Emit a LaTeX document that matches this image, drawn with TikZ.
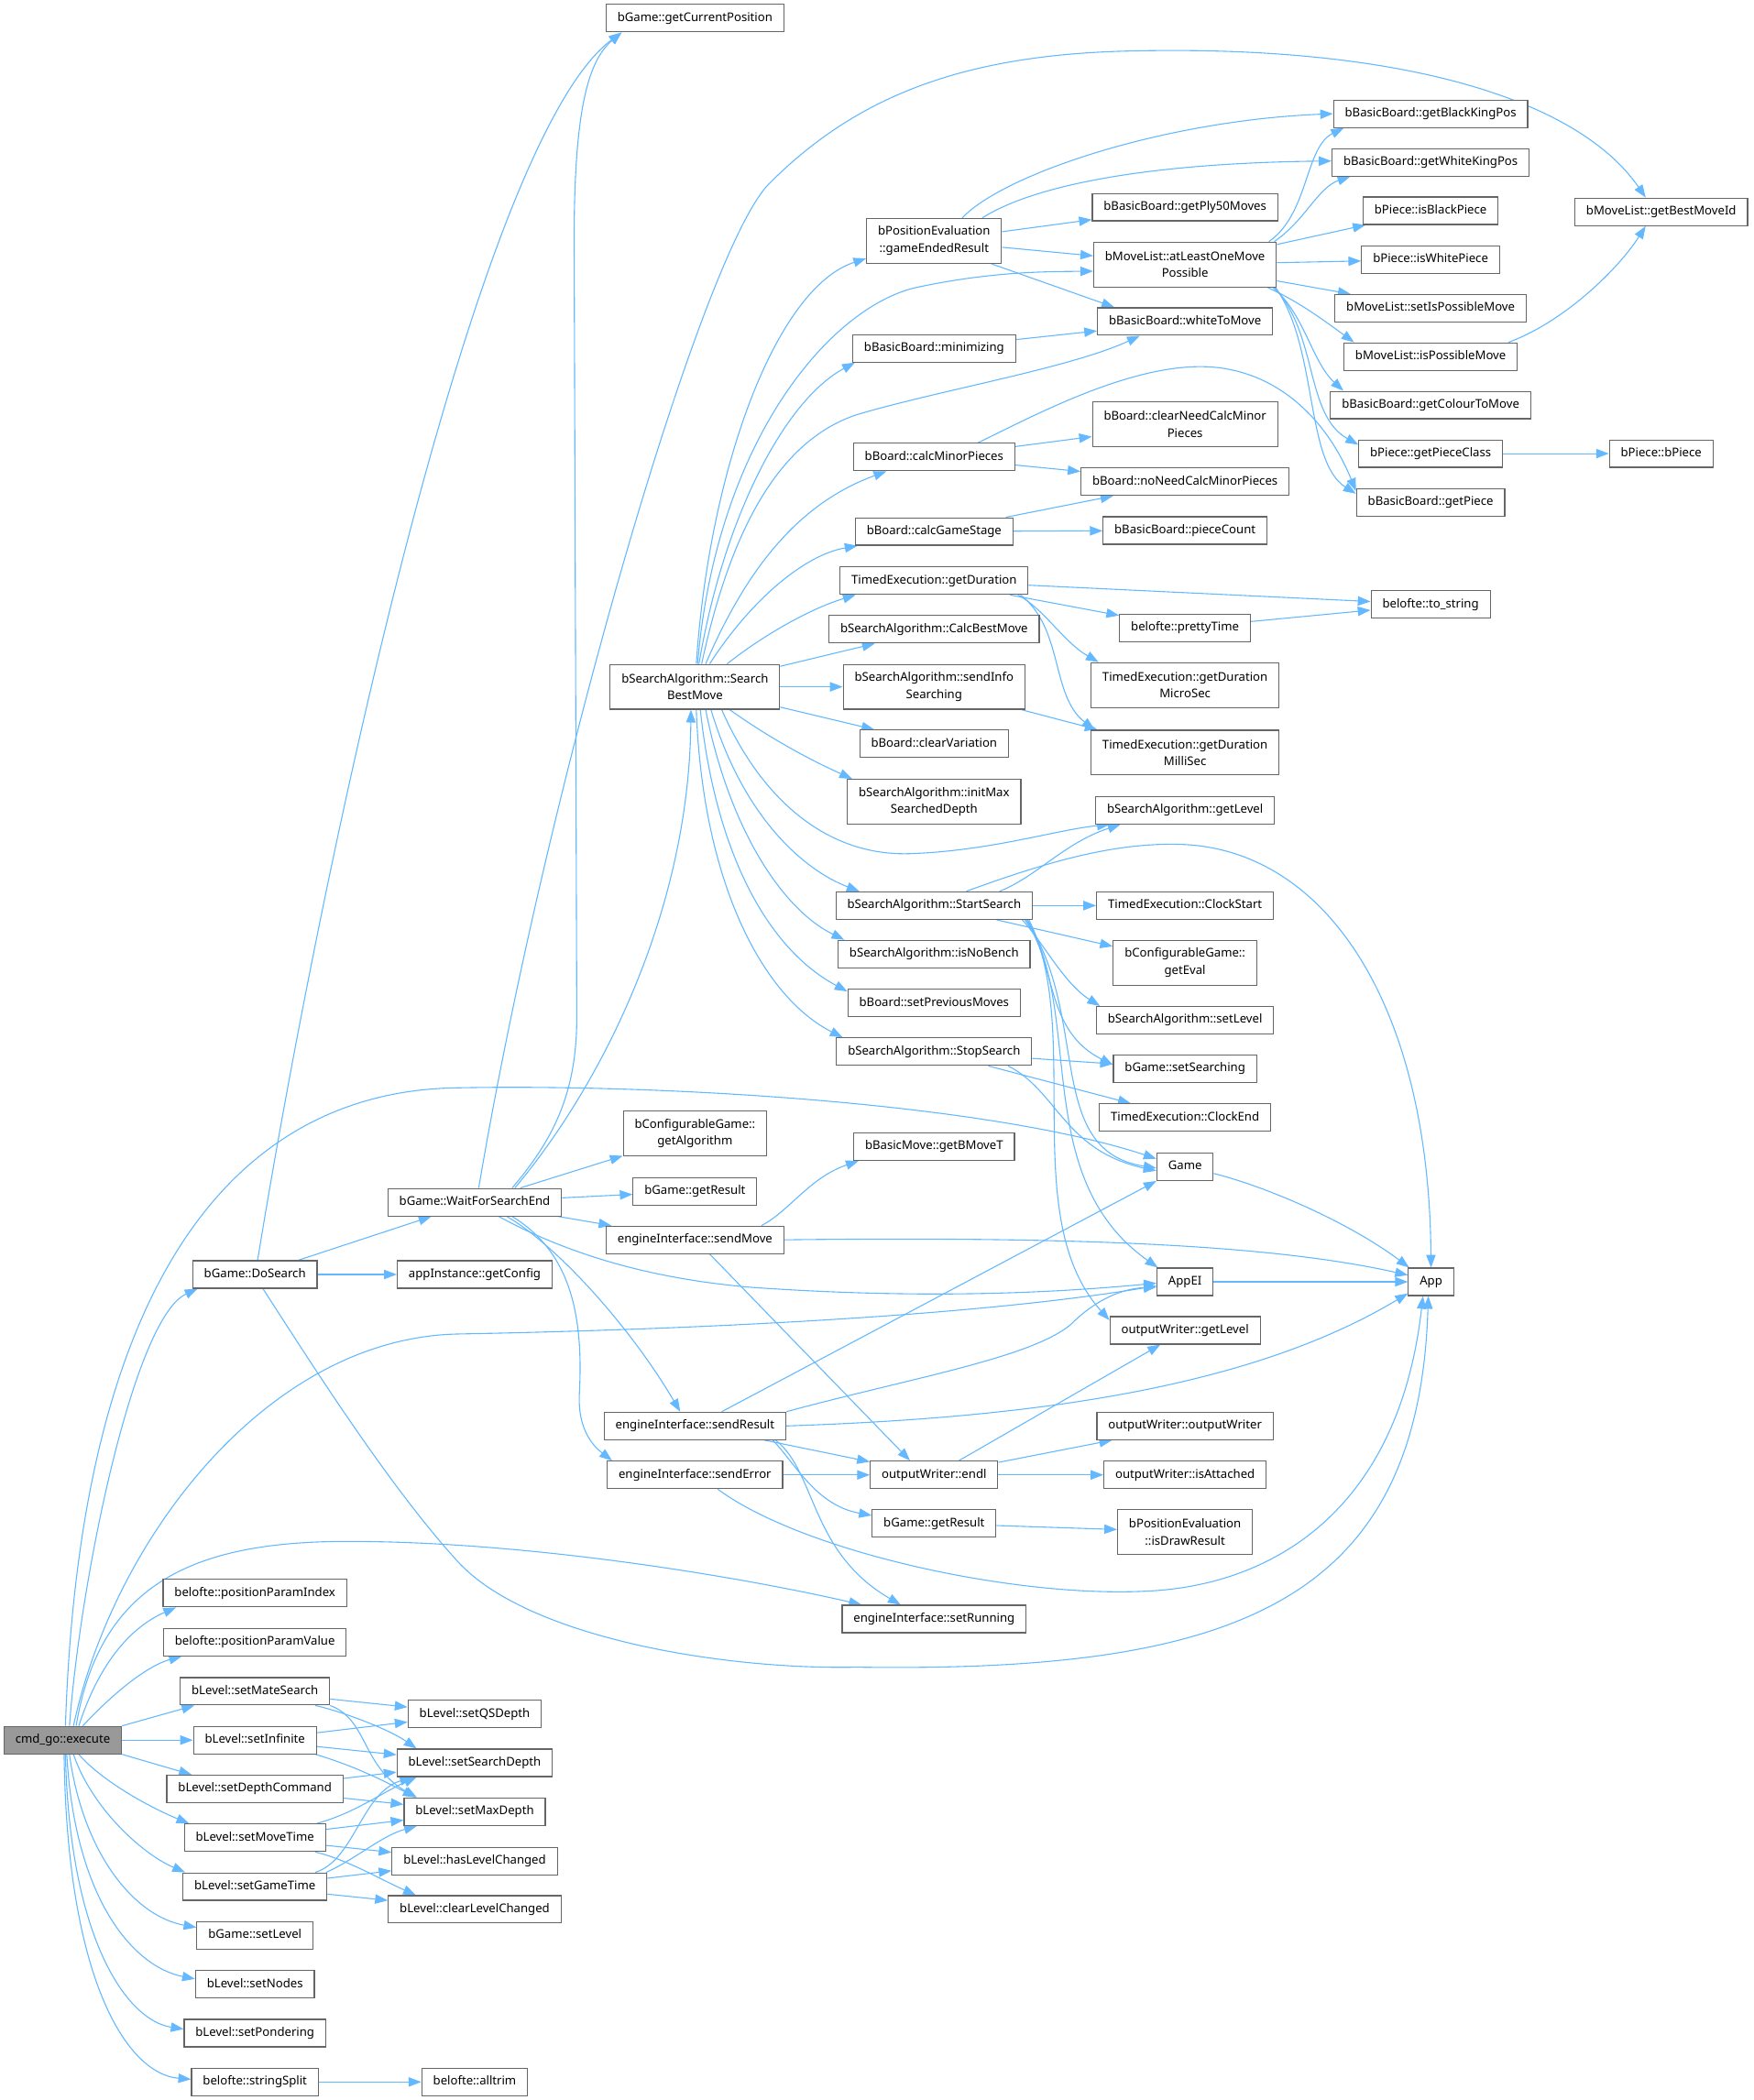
\documentclass[tikz,border=0pt]{standalone}
\usepackage{fontspec}
\setmainfont{Noto Sans}
\usetikzlibrary{arrows.meta,backgrounds}
\definecolor{edgeblue}{HTML}{63B8FF}
\definecolor{nodeborder}{HTML}{666666}
\definecolor{rootgray}{HTML}{999999}
\begin{document}
\begin{tikzpicture}[x=1pt,y=-1pt,
  box/.style={draw=nodeborder, fill=white, line width=0.8pt, rectangle, inner xsep=8.5pt, inner ysep=0pt,
    minimum height=20.5pt, text height=6.6pt, text depth=1.9pt, font=\fontsize{9}{12.8}\selectfont},
  boxtwo/.style={draw=nodeborder, fill=white, line width=0.8pt, rectangle, inner xsep=8.5pt, inner ysep=0pt,
    minimum height=33.5pt, align=center, font=\fontsize{9}{12.8}\selectfont},
  edge/.style={draw=edgeblue, line width=0.75pt, -{Triangle[length=9.5pt,width=7pt]}}]
\useasboundingbox (0,0) rectangle (1310,1569.5);
% column 0
\node[box, fill=rootgray] (exec) at (46.9,1300.5) {cmd\_go::execute};
% column 1
\node[box] (dosearch) at (190.5,952.5) {bGame::DoSearch};
\node[box] (ppi) at (190.5,1190.7) {belofte::positionParamIndex};
\node[box] (ppv) at (190.5,1227.2) {belofte::positionParamValue};
\node[box] (matesearch) at (190.5,1264) {bLevel::setMateSearch};
\node[box] (infinite) at (190.5,1300.5) {bLevel::setInfinite};
\node[box] (depthcmd) at (190.5,1337) {bLevel::setDepthCommand};
\node[box] (movetime) at (190.5,1373.5) {bLevel::setMoveTime};
\node[box] (gametime) at (190.5,1410) {bLevel::setGameTime};
\node[box] (setlevel) at (190.5,1446.5) {bGame::setLevel};
\node[box] (setnodes) at (190.5,1483) {bLevel::setNodes};
\node[box] (pondering) at (190.5,1519.5) {bLevel::setPondering};
\node[box] (stringsplit) at (190.5,1556) {belofte::stringSplit};
% column 2
\node[box] (waitfor) at (354.7,898.5) {bGame::WaitForSearchEnd};
\node[box] (getconfig) at (354.7,952.5) {appInstance::getConfig};
\node[box] (qsdepth) at (354.7,1281) {bLevel::setQSDepth};
\node[box] (searchdepth) at (354.7,1317.5) {bLevel::setSearchDepth};
\node[box] (maxdepth) at (354.7,1354) {bLevel::setMaxDepth};
\node[box] (haslevel) at (354.7,1391) {bLevel::hasLevelChanged};
\node[box] (clearlevel) at (354.7,1427) {bLevel::clearLevelChanged};
\node[box] (alltrim) at (354.7,1556) {belofte::alltrim};
% column 3
\node[box] (getcurpos) at (519.3,13.6) {bGame::getCurrentPosition};
\node[boxtwo] (searchbest) at (519.3,513.3) {bSearchAlgorithm::Search\\BestMove};
\node[boxtwo] (getalgo) at (519.3,847) {bConfigurableGame::\\getAlgorithm};
\node[box] (getresult) at (519.3,890.3) {bGame::getResult};
\node[box] (sendmove) at (519.3,926.6) {engineInterface::sendMove};
\node[box] (sendresult) at (519.3,1065.7) {engineInterface::sendResult};
\node[box] (senderror) at (519.3,1102.3) {engineInterface::sendError};
% column 4
\node[boxtwo] (gameended) at (698,180) {bPositionEvaluation\\::gameEndedResult};
\node[box] (minimizing) at (698,260.3) {bBasicBoard::minimizing};
\node[box] (calcminor) at (698,341.6) {bBoard::calcMinorPieces};
\node[box] (calcgame) at (698,397.2) {bBoard::calcGameStage};
\node[box] (getduration) at (698,434) {TimedExecution::getDuration};
\node[box] (calcbest) at (698,470.3) {bSearchAlgorithm::CalcBestMove};
\node[boxtwo] (sendinfo) at (698,513.3) {bSearchAlgorithm::sendInfo\\Searching};
\node[box] (clearvar) at (698,555.9) {bBoard::clearVariation};
\node[boxtwo] (initmax) at (698,599.2) {bSearchAlgorithm::initMax\\SearchedDepth};
\node[box] (startsearch) at (698,676.8) {bSearchAlgorithm::StartSearch};
\node[box] (isnobench) at (698,713) {bSearchAlgorithm::isNoBench};
\node[box] (setprev) at (698,749.6) {bBoard::setPreviousMoves};
\node[box] (stopsearch) at (698,786) {bSearchAlgorithm::StopSearch};
\node[box] (getbmovet) at (698,857) {bBasicMove::getBMoveT};
\node[box] (endl) at (698,1102.3) {outputWriter::endl};
\node[box] (getresult2) at (698,1138.6) {bGame::getResult};
\node[box] (setrunning) at (698,1210) {engineInterface::setRunning};
% column 5
\node[box] (ply50) at (885.5,154.8) {bBasicBoard::getPly50Moves};
\node[boxtwo] (atleast) at (885.5,197.7) {bMoveList::atLeastOneMove\\Possible};
\node[box] (whitetomove) at (885.5,240.3) {bBasicBoard::whiteToMove};
\node[boxtwo] (clearneed) at (885.5,317.3) {bBoard::clearNeedCalcMinor\\Pieces};
\node[box] (noneed) at (885.5,360) {bBoard::noNeedCalcMinorPieces};
\node[box] (piececount) at (885.5,396.5) {bBasicBoard::pieceCount};
\node[box] (prettytime) at (885.5,469.2) {belofte::prettyTime};
\node[boxtwo] (microsec) at (885.5,512) {TimedExecution::getDuration\\MicroSec};
\node[boxtwo] (millisec) at (885.5,562.5) {TimedExecution::getDuration\\MilliSec};
\node[box] (getlevel) at (885.5,605.5) {bSearchAlgorithm::getLevel};
\node[box] (clockstart) at (885.5,676.8) {TimedExecution::ClockStart};
\node[boxtwo] (geteval) at (885.5,719.6) {bConfigurableGame::\\getEval};
\node[box] (setlevel2) at (885.5,762.5) {bSearchAlgorithm::setLevel};
\node[box] (setsearching) at (885.5,798.8) {bGame::setSearching};
\node[box] (clockend) at (885.5,835.3) {TimedExecution::ClockEnd};
\node[box] (game) at (885.5,872) {Game};
\node[box] (appei) at (885.5,958) {AppEI};
\node[box] (owgetlevel) at (885.5,994.3) {outputWriter::getLevel};
\node[box] (owctor) at (885.5,1065.7) {outputWriter::outputWriter};
\node[box] (isattached) at (885.5,1102.3) {outputWriter::isAttached};
\node[boxtwo] (isdraw) at (885.5,1144.8) {bPositionEvaluation\\::isDrawResult};
% column 6
\node[box] (getblack) at (1069,85) {bBasicBoard::getBlackKingPos};
\node[box] (getwhite) at (1069,121.3) {bBasicBoard::getWhiteKingPos};
\node[box] (isblack) at (1069,157.5) {bPiece::isBlackPiece};
\node[box] (iswhite) at (1069,194) {bPiece::isWhitePiece};
\node[box] (setispossible) at (1069,230.4) {bMoveList::setIsPossibleMove};
\node[box] (ispossible) at (1069,266.5) {bMoveList::isPossibleMove};
\node[box] (getcolour) at (1069,302.7) {bBasicBoard::getColourToMove};
\node[box] (getpiececlass) at (1069,339) {bPiece::getPieceClass};
\node[box] (getpiece) at (1069,375.6) {bBasicBoard::getPiece};
\node[box] (tostring) at (1069,451.7) {belofte::to\_string};
\node[box] (app) at (1069.3,958) {App};
% column 7
\node[box] (getbestid) at (1241.3,158.3) {bMoveList::getBestMoveId};
\node[box] (bpiece) at (1241.3,339) {bPiece::bPiece};

\begin{scope}[on background layer]
% cmd_go::execute
\draw[edge] ([xshift=5pt]exec.north) .. controls (60,1180) and (100,985) .. ([xshift=4pt]dosearch.south west);
\draw[edge] ([xshift=2pt]exec.north) .. controls (60,950) and (180,815) .. (342,813) .. controls (500,810) and (740,825) .. ([yshift=6pt]game.west);
\draw[edge] ([xshift=8pt]exec.north) .. controls (85,1150) and (200,1000) .. (342,997) .. controls (500,994) and (720,985) .. ([yshift=-3pt]appei.west);
\draw[edge] ([xshift=10pt]exec.north) .. controls (75,1180) and (150,1152) .. (260,1152) .. controls (400,1152) and (560,1180) .. ([xshift=15pt]setrunning.north west);
\draw[edge] ([xshift=12pt]exec.north) .. controls (75,1240) and (100,1215) .. ([xshift=10pt]ppi.south west);
\draw[edge] ([xshift=15pt]exec.north) .. controls (85,1265) and (110,1245) .. ([xshift=14pt]ppv.south west);
\draw[edge] (exec.north east) -- ([xshift=11pt]matesearch.south west);
\draw[edge] (exec) -- (infinite);
\draw[edge] (exec.south east) -- ([xshift=19pt]depthcmd.north west);
\draw[edge] ([xshift=12pt]exec.south) .. controls (75,1330) and (110,1350) .. ([xshift=4pt]movetime.north west);
\draw[edge] ([xshift=8pt]exec.south) .. controls (68,1350) and (105,1385) .. ([xshift=2pt]gametime.north west);
\draw[edge] ([xshift=5pt]exec.south) .. controls (62,1385) and (100,1432) .. ([yshift=6pt]setlevel.west);
\draw[edge] ([xshift=3pt]exec.south) .. controls (56,1420) and (100,1470) .. ([yshift=4pt]setnodes.west);
\draw[edge] ([xshift=2pt]exec.south) .. controls (52,1450) and (95,1510) .. ([yshift=3pt]pondering.west);
\draw[edge] ([xshift=1pt]exec.south) .. controls (50,1480) and (95,1550) .. ([yshift=2pt]stringsplit.west);
% bGame::DoSearch
\draw[edge] ([xshift=2pt]dosearch.north) .. controls (243,632) and (357,104) .. ([xshift=12pt]getcurpos.south west);
\draw[edge] (dosearch) -- (waitfor);
\draw[edge] (dosearch) -- (getconfig);
\draw[edge] ([xshift=6pt]dosearch.south) .. controls (230,1015) and (290,1110) .. (342,1167) .. controls (394,1224) and (540,1248) .. (640,1246) .. controls (920,1250) and (1060,1200) .. ([xshift=-2pt]app.south);
% bGame::WaitForSearchEnd
\draw[edge] ([xshift=28pt]waitfor.north) .. controls (415,850) and (431,815) .. (431,760) -- (429,180) .. controls (429,80) and (440,45) .. ([xshift=12pt]getcurpos.south west);
\draw[edge] ([xshift=30pt]waitfor.north) .. controls (450,810) and (515,680) .. ([xshift=-3pt]searchbest.south);
\draw[edge] (waitfor) -- (getalgo);
\draw[edge] (waitfor) -- (getresult);
\draw[edge] (waitfor) -- (sendmove);
\draw[edge] ([xshift=24pt]waitfor.south) .. controls (415,930) and (470,990) .. ([xshift=-11pt]sendresult.north);
\draw[edge] ([xshift=28pt]waitfor.south) .. controls (425,935) and (436,980) .. (433,1040) .. controls (431,1070) and (445,1082) .. ([xshift=4pt]senderror.north west);
\draw[edge] ([xshift=18pt]waitfor.south) .. controls (420,935) and (480,955) .. (560,962) .. controls (700,972) and (800,965) .. ([yshift=-1pt]appei.west);
\draw[edge] ([xshift=3pt]waitfor.north) .. controls (409,585) and (525,186) .. (575,137) .. controls (640,72) and (720,40) .. (850,38) .. controls (1050,34) and (1180,75) .. ([xshift=-11.6pt]getbestid.north);
% bSearchAlgorithm::SearchBestMove
\draw[edge] ([xshift=1pt]searchbest.north) .. controls (530,350) and (580,215) .. ([yshift=4pt]gameended.south west);
\draw[edge] ([xshift=2pt]searchbest.north) .. controls (535,330) and (620,230) .. (684,215) .. controls (740,203) and (780,203) .. ([yshift=-5pt]atleast.west);
\draw[edge] ([xshift=3pt]searchbest.north) .. controls (540,390) and (585,300) .. ([xshift=2pt]minimizing.south west);
\draw[edge] ([xshift=5pt]searchbest.north) .. controls (545,400) and (580,330) .. (640,310) .. controls (700,292) and (800,275) .. ([xshift=32pt]whitetomove.south west);
\draw[edge] ([xshift=8pt]searchbest.north) .. controls (560,420) and (600,375) .. ([xshift=25pt]calcminor.south west);
\draw[edge] ([xshift=11pt]searchbest.north) .. controls (560,450) and (600,415) .. ([xshift=2pt]calcgame.south west);
\draw[edge] ([xshift=24pt]searchbest.north) .. controls (570,475) and (605,455) .. ([xshift=12pt]getduration.south west);
\draw[edge] (searchbest) -- (calcbest);
\draw[edge] (searchbest) -- (sendinfo);
\draw[edge] (searchbest) -- (clearvar);
\draw[edge] ([xshift=26pt]searchbest.south) .. controls (580,555) and (610,570) .. ([xshift=4pt]initmax.north west);
\draw[edge] ([xshift=20pt]searchbest.south) .. controls (570,600) and (620,640) .. (680,638) .. controls (740,636) and (790,620) .. ([xshift=11pt]getlevel.south west);
\draw[edge] ([xshift=12pt]searchbest.south) .. controls (555,610) and (600,650) .. ([xshift=18pt]startsearch.north west);
\draw[edge] ([xshift=8pt]searchbest.south) .. controls (545,620) and (585,680) .. ([xshift=5pt]isnobench.north west);
\draw[edge] ([xshift=4pt]searchbest.south) .. controls (535,640) and (575,710) .. ([yshift=-2pt]setprev.north west);
\draw[edge] ([xshift=1pt]searchbest.south) .. controls (525,660) and (570,745) .. ([xshift=5pt]stopsearch.north west);
% bPositionEvaluation::gameEndedResult
\draw[edge] ([xshift=21pt]gameended.north) .. controls (750,130) and (870,90) .. (getblack.west);
\draw[edge] ([xshift=36pt]gameended.north) .. controls (770,140) and (850,122) .. ([yshift=1pt]getwhite.west);
\draw[edge] (gameended) -- (ply50);
\draw[edge] (gameended) -- (atleast);
\draw[edge] ([xshift=-8pt]gameended.south east) -- ([xshift=13pt]whitetomove.north west);
% bMoveList::atLeastOneMovePossible
\draw[edge] ([xshift=-6pt]atleast.north east) .. controls (978,160) and (975,110) .. ([xshift=8pt]getblack.south west);
\draw[edge] ([xshift=-2pt]atleast.north east) .. controls (975,165) and (985,140) .. ([xshift=14pt]getwhite.south west);
\draw[edge] (atleast) -- (isblack);
\draw[edge] (atleast) -- (iswhite);
\draw[edge] (atleast) -- (setispossible);
\draw[edge] ([xshift=-7pt]atleast.south east) .. controls (970,225) and (990,240) .. ([xshift=8pt]ispossible.north west);
\draw[edge] ([xshift=-3pt]atleast.south east) .. controls (975,235) and (980,270) .. ([xshift=10pt]getcolour.north west);
\draw[edge] ([xshift=-2pt]atleast.south east) .. controls (985,250) and (975,310) .. ([yshift=-4pt]getpiececlass.north west);
\draw[edge] ([xshift=-1pt]atleast.south east) .. controls (985,260) and (975,345) .. ([yshift=-4pt]getpiece.north west);
% boards
\draw[edge] (minimizing) -- (whitetomove);
\draw[edge] (calcminor) -- (clearneed);
\draw[edge] (calcminor) -- (noneed);
\draw[edge] ([xshift=-28pt]calcminor.north east) .. controls (770,312) and (840,274) .. (897,274) .. controls (950,274) and (990,310) .. ([yshift=-2pt]getpiece.north west);
\draw[edge] (calcgame) -- (noneed);
\draw[edge] (calcgame) -- (piececount);
\draw[edge] ([xshift=-7pt]ispossible.north east) .. controls (1170,240) and (1210,200) .. ([xshift=-11.6pt]getbestid.south);
\draw[edge] (getpiececlass) -- (bpiece);
% TimedExecution::getDuration
\draw[edge] (getduration) -- (tostring);
\draw[edge] (getduration) -- (prettytime);
\draw[edge] ([xshift=-8pt]getduration.south east) .. controls (780,455) and (795,480) .. ([xshift=6pt]microsec.north west);
\draw[edge] ([xshift=-6pt]getduration.south east) .. controls (795,470) and (785,520) .. ([xshift=3pt]millisec.north west);
\draw[edge] (prettytime) -- (tostring);
\draw[edge] (sendinfo) -- (millisec);
% bSearchAlgorithm::StartSearch
\draw[edge] ([xshift=-25pt]startsearch.north east) .. controls (775,655) and (795,630) .. ([xshift=19pt]getlevel.south west);
\draw[edge] ([xshift=24pt]startsearch.north) .. controls (780,645) and (830,630) .. (880,631) .. controls (990,633) and (1068,750) .. (app.north);
\draw[edge] (startsearch) -- (clockstart);
\draw[edge] (startsearch) -- (geteval);
\draw[edge] ([xshift=-8pt]startsearch.south east) .. controls (780,705) and (795,735) .. ([xshift=3pt]setlevel2.north west);
\draw[edge] ([xshift=-6pt]startsearch.south east) .. controls (790,720) and (780,770) .. ([yshift=3pt]setsearching.west);
\draw[edge] ([xshift=-5pt]startsearch.south east) .. controls (815,760) and (780,860) .. ([yshift=-1pt]game.west);
\draw[edge] ([xshift=-4pt]startsearch.south east) .. controls (810,760) and (770,880) .. ([xshift=1pt]appei.north west);
\draw[edge] ([xshift=-3pt]startsearch.south east) .. controls (810,770) and (760,910) .. ([yshift=-3pt]owgetlevel.north west);
% bSearchAlgorithm::StopSearch
\draw[edge] (stopsearch) -- (setsearching);
\draw[edge] (stopsearch) -- (clockend);
\draw[edge] ([xshift=-18pt]stopsearch.south east) .. controls (790,815) and (795,860) .. ([yshift=-3pt]game.west);
% Game, AppEI
\draw[edge] ([yshift=-5pt]game.east) .. controls (950,888) and (1010,915) .. ([xshift=1pt]app.north west);
\draw[edge] (appei) -- (app);
% engineInterface::sendMove
\draw[edge] ([xshift=-17pt]sendmove.north east) .. controls (590,905) and (605,880) .. ([xshift=4pt]getbmovet.south west);
\draw[edge] (sendmove.east) .. controls (800,924) and (950,930) .. ([yshift=5pt]app.west);
\draw[edge] ([xshift=11pt]sendmove.south) -- ([xshift=-18pt]endl.north);
% engineInterface::sendResult
\draw[edge] ([xshift=20pt]sendresult.north) -- (game.south west);
\draw[edge] (sendresult.north east) .. controls (680,1030) and (770,1015) .. (800,990) .. controls (820,970) and (840,963) .. ([yshift=-4pt]appei.west);
\draw[edge] (sendresult.east) .. controls (760,1060) and (930,1040) .. ([yshift=2pt]app.south west);
\draw[edge] (sendresult) -- (endl);
\draw[edge] ([xshift=-10pt]sendresult.south east) .. controls (595,1095) and (610,1125) .. ([yshift=6pt]getresult2.west);
\draw[edge] ([xshift=-8pt]sendresult.south east) .. controls (610,1100) and (605,1160) .. ([xshift=-25pt]setrunning.north);
% engineInterface::sendError
\draw[edge] (senderror) -- (endl);
\draw[edge] ([xshift=17pt]senderror.south) .. controls (600,1160) and (760,1195) .. (860,1189) .. controls (950,1184) and (1045,1130) .. ([xshift=-6pt]app.south);
% outputWriter::endl
\draw[edge] (endl) -- (owgetlevel);
\draw[edge] (endl) -- (owctor);
\draw[edge] (endl) -- (isattached);
\draw[edge] (getresult2) -- (isdraw);
% bLevel
\draw[edge] (matesearch) -- (qsdepth);
\draw[edge] ([xshift=-11pt]matesearch.south east) .. controls (255,1279) and (290,1292) .. ([xshift=15pt]searchdepth.north west);
\draw[edge] (matesearch.south east) .. controls (275,1285) and (270,1320) .. ([xshift=10pt]maxdepth.north west);
\draw[edge] (infinite) -- (qsdepth);
\draw[edge] (infinite) -- (searchdepth);
\draw[edge] ([xshift=-1pt]infinite.south east) .. controls (265,1320) and (285,1330) .. ([xshift=9pt]maxdepth.north west);
\draw[edge] (depthcmd) -- (searchdepth);
\draw[edge] (depthcmd) -- (maxdepth);
\draw[edge] ([xshift=-7pt]movetime.north east) .. controls (265,1355) and (285,1340) .. ([xshift=15pt]searchdepth.south west);
\draw[edge] (movetime) -- (maxdepth);
\draw[edge] (movetime) -- (haslevel);
\draw[edge] ([xshift=-8pt]movetime.south east) .. controls (260,1390) and (285,1405) .. ([xshift=21pt]clearlevel.north west);
\draw[edge] ([xshift=-9pt]gametime.north east) .. controls (265,1390) and (270,1340) .. ([xshift=12pt]searchdepth.south west);
\draw[edge] ([xshift=-1pt]gametime.north east) .. controls (265,1390) and (285,1372) .. ([xshift=10pt]maxdepth.south west);
\draw[edge] (gametime) -- (haslevel);
\draw[edge] (gametime) -- (clearlevel);
\draw[edge] (stringsplit) -- (alltrim);
\end{scope}
\end{tikzpicture}
\end{document}
